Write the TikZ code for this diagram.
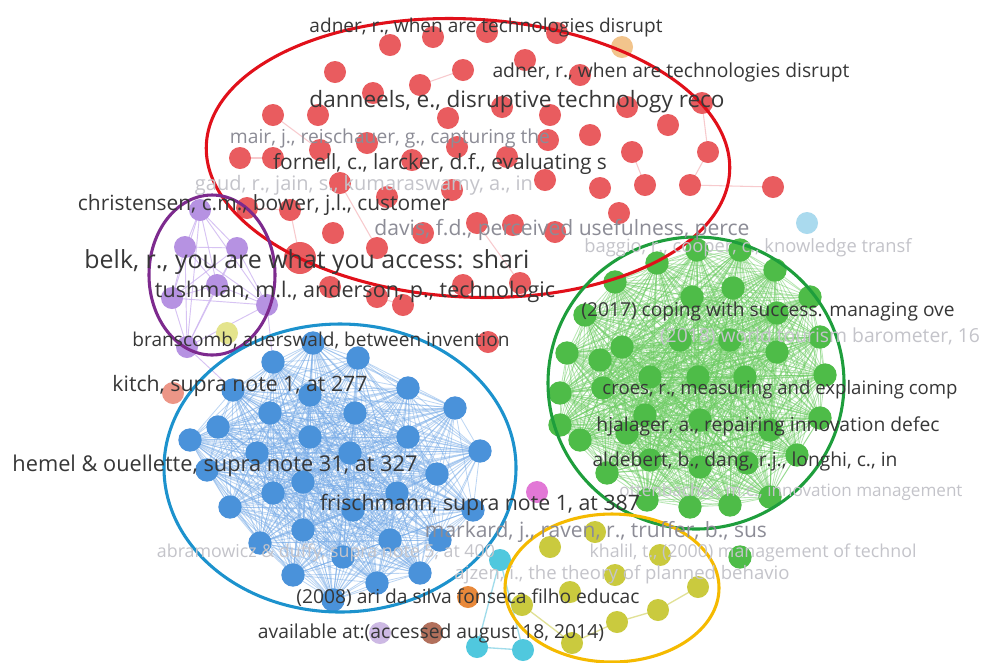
\documentclass[tikz,border=0pt]{standalone}
\usepackage{fontspec}
\setmainfont{Open Sans}
\usepackage{graphicx}
\definecolor{redN}{RGB}{233,92,95}
\definecolor{redE}{RGB}{225,16,26}
\definecolor{redL}{RGB}{245,180,185}
\definecolor{purN}{RGB}{182,146,226}
\definecolor{purE}{RGB}{125,42,142}
\definecolor{purL}{RGB}{205,180,240}
\definecolor{bluN}{RGB}{74,146,218}
\definecolor{bluE}{RGB}{28,146,205}
\definecolor{bluL}{RGB}{120,172,232}
\definecolor{grnN}{RGB}{78,188,72}
\definecolor{grnE}{RGB}{30,158,60}
\definecolor{grnL}{RGB}{110,205,100}
\definecolor{yelN}{RGB}{202,202,62}
\definecolor{yelE}{RGB}{245,186,0}
\definecolor{yelL}{RGB}{225,225,150}
\definecolor{cyaN}{RGB}{80,200,222}
\definecolor{cyaL}{RGB}{160,220,235}
\definecolor{txtD}{RGB}{55,55,55}
\definecolor{txtM}{RGB}{140,140,150}
\definecolor{txtF}{RGB}{196,196,202}
\tikzset{
  dot/.style={circle,inner sep=0pt,minimum size=16.5pt},
  rnode/.style={dot,fill=redN},
  pnode/.style={dot,fill=purN},
  bnode/.style={dot,fill=bluN,minimum size=17.5pt},
  gnode/.style={dot,fill=grnN,minimum size=17.5pt},
  ynode/.style={dot,fill=yelN},
  cnode/.style={dot,fill=cyaN},
  bedge/.style={draw=bluL,line width=0.6pt,opacity=0.5},
  gedge/.style={draw=grnL,line width=0.6pt,opacity=0.5},
  pedge/.style={draw=purL,line width=0.7pt,opacity=0.8},
  redge/.style={draw=redL,line width=0.8pt,opacity=0.7},
  yedge/.style={draw=yelL,line width=1pt},
  cedge/.style={draw=cyaL,line width=1pt},
  cluster/.style={line width=2.3pt},
}
\newcommand\lbl[6]{\node[text=#1,inner sep=0pt,anchor=center] (#2) at (#3,#4) {\resizebox{\dimexpr #5pt*3/4\relax}{!}{#6}};}
\begin{document}
\begin{tikzpicture}[x=0.75pt,y=-0.75pt]
\useasboundingbox (0,0) rectangle (984,662);
\fill[white] (0,0) rectangle (984,662);
% ---------- coordinates ----------
\foreach \x/\y [count=\i] in {390/45,433/37,487/32,557/33,525/60,335/72,373/93,420/85,463/70,502/107,580/75,627/107,273/115,318/115,448/118,550/115,240/158,273/158,320/150,367/143,412/160,457/147,507/157,247/208,290/210,340/183,387/197,452/190,477/223,333/233,377/248,423/233,330/287,377/297,463/285,520/283,403/305,548/140,590/135,632/152,668/125,708/152,702/103,545/180,600/188,645/185,690/185,513/225,555/232,619/213,773/187,488/342}
  \coordinate (r\i) at (\x,\y);
\coordinate (rbig) at (300,258);
\foreach \x/\y [count=\i] in {200/210,185/247,237/248,172/298,217/285,267/305,187/347}
  \coordinate (p\i) at (\x,\y);
\foreach \x/\y [count=\i] in {273/362,358/358,313/343,233/390,408/388,455/408,270/413,355/413,218/427,310/437,408/437,480/451,257/453,350/453,207/470,303/482,437/474,397/493,230/507,273/493,353/510,473/510,303/530,260/543,343/557,390/540,440/540,293/575,377/583,420/573,333/600,310/395,190/440}
  \coordinate (b\i) at (\x,\y);
\foreach \x/\y [count=\i] in {697/250,740/250,657/263,775/270,615/282,692/297,733/288,810/297,585/315,777/313,622/347,680/340,730/340,820/337,567/353,777/352,650/377,698/377,745/377,825/375,560/393,603/388,580/440,627/433,770/430,820/418,607/473,650/460,700/467,747/463,797/455,647/500,690/507,730/505,770/497,645/415,700/420,600/360,560/425}
  \coordinate (g\i) at (\x,\y);
\foreach \x/\y [count=\i] in {595/532,550/547,660/555,615/575,570/592,698/587,658/610,617/622,572/643,522/605}
  \coordinate (y\i) at (\x,\y);
\foreach \x/\y [count=\i] in {500/560,477/647,523/650}
  \coordinate (c\i) at (\x,\y);
% ---------- edges ----------
\foreach \i in {1,...,33}{\foreach \j in {1,...,33}{\ifnum\i<\j\relax\draw[bedge] (b\i) -- (b\j);\fi}}
\foreach \i in {1,...,39}{\foreach \j in {1,...,39}{\ifnum\i<\j\relax\draw[gedge] (g\i) -- (g\j);\fi}}
\foreach \i in {1,...,7}{\foreach \j in {1,...,7}{\ifnum\i<\j\relax\draw[pedge] (p\i) -- (p\j);\fi}}
\draw[pedge] (p7) -- (b4);
\draw[pedge] (p6) -- (b1);
\foreach \a/\b in {8/9,13/19,26/31,29/36,42/47,43/42,40/46,17/18,24/25,34/37,47/51}
  \draw[redge] (r\a) -- (r\b);
\draw[redge] (rbig) -- (r25);
\draw[yedge] (y9) -- (y8) -- (y7) -- (y6);
\draw[yedge] (y10) -- (y9);
\draw[cedge] (c1) -- (c2) -- (c3) -- (c1);
% ---------- nodes ----------
\foreach \i in {1,...,52}\node[rnode] (rn\i) at (r\i) {};
\node[rnode,minimum size=24pt] (rnbig) at (rbig) {};
\foreach \i in {1,...,7}\node[pnode] (pn\i) at (p\i) {};
\foreach \i in {1,...,33}\node[bnode] (bn\i) at (b\i) {};
\foreach \i in {1,...,39}\node[gnode] (gn\i) at (g\i) {};
\node[gnode] (gout) at (740,557) {};
\foreach \i in {1,...,10}\node[ynode] (yn\i) at (y\i) {};
\foreach \i in {1,...,3}\node[cnode] (cn\i) at (c\i) {};
\node[dot,fill={rgb,255:red,232;green,136;blue,58}] (orange) at (468,597) {};
\node[dot,fill={rgb,255:red,205;green,185;blue,228}] (lilac) at (380,633) {};
\node[dot,fill={rgb,255:red,178;green,112;blue,92}] (brown) at (432,633) {};
\node[dot,fill={rgb,255:red,226;green,120;blue,214}] (pink) at (537,492) {};
\node[dot,fill={rgb,255:red,236;green,150;blue,135}] (salmon) at (173,393) {};
\node[dot,fill={rgb,255:red,170;green,218;blue,238}] (lblue) at (807,223) {};
\node[dot,fill={rgb,255:red,242;green,196;blue,140}] (lorange) at (622,47) {};
\node[dot,fill={rgb,255:red,228;green,228;blue,140}] (lyellow) at (227,333) {};
% ---------- cluster ellipses ----------
\draw[cluster,draw=redE,rotate around={-3:(468,158)}] (468,158) ellipse [x radius=262,y radius=139];
\draw[cluster,draw=purE] (212,275) ellipse [x radius=63,y radius=80];
\draw[cluster,draw=bluE] (340,468) ellipse [x radius=176,y radius=144];
\draw[cluster,draw=grnE] (696,383) ellipse [x radius=148,y radius=146];
\draw[cluster,draw=yelE] (612,588) ellipse [x radius=107,y radius=74];
% ---------- labels ----------
\lbl{txtF}{L6}{364}{185}{338}{gaud, r., jain, s., kumaraswamy, a., in}
\lbl{txtF}{L10}{748}{248}{327}{baggio, r., cooper, c., knowledge transf}
\lbl{txtF}{L13}{820}{337}{320}{(2018) world tourism barometer, 16}
\lbl{txtF}{L21}{791}{492}{343}{ottenbacher, m.c., innovation management}
\lbl{txtF}{L24}{326}{553}{338}{abramowicz \& duffy, supra note 5, at 400}
\lbl{txtF}{L25}{753}{553}{327}{khalil, t., (2000) management of technol}
\lbl{txtF}{L26}{622}{575}{335}{ajzen, i., the theory of planned behavio}
\lbl{txtM}{L4}{390}{138}{320}{mair, j., reischauer, g., capturing the}
\lbl{txtM}{L8}{562}{230}{375}{davis, f.d., perceived usefulness, perce}
\lbl{txtM}{L23}{596}{532}{342}{markard, j., raven, r., truffer, b., sus}
\lbl{txtD}{L1}{486}{28}{353}{adner, r., when are technologies disrupt}
\lbl{txtD}{L2}{671}{72}{357}{adner, r., when are technologies disrupt}
\lbl{txtD}{L3}{517}{102}{415}{danneels, e., disruptive technology reco}
\lbl{txtD}{L5}{440}{164}{334}{fornell, c., larcker, d.f., evaluating s}
\lbl{txtD}{L7}{264}{205}{372}{christensen, c.m., bower, j.l., customer}
\lbl{txtD}{L9}{307}{262}{445}{belk, r., you are what you access: shari}
\lbl{txtD}{L11}{355}{292}{400}{tushman, m.l., anderson, p., technologic}
\lbl{txtD}{L12}{768}{312}{373}{(2017) coping with success. managing ove}
\lbl{txtD}{L14}{321}{340}{377}{branscomb, auerswald, between invention}
\lbl{txtD}{L15}{240}{386}{255}{kitch, supra note 1, at 277}
\lbl{txtD}{L16}{780}{390}{355}{croes, r., measuring and explaining comp}
\lbl{txtD}{L18}{768}{426}{343}{hjalager, a., repairing innovation defec}
\lbl{txtD}{L19}{215}{466}{405}{hemel \& ouellette, supra note 31, at 327}
\lbl{txtD}{L20}{745}{461}{305}{aldebert, b., dang, r.j., longhi, c., in}
\lbl{txtD}{L22}{480}{505}{320}{frischmann, supra note 1, at 387}
\lbl{txtD}{L27}{468}{598}{343}{(2008) ari da silva fonseca filho educac}
\lbl{txtD}{L28}{431}{633}{346}{available at:(accessed august 18, 2014)}
\end{tikzpicture}
\end{document}
